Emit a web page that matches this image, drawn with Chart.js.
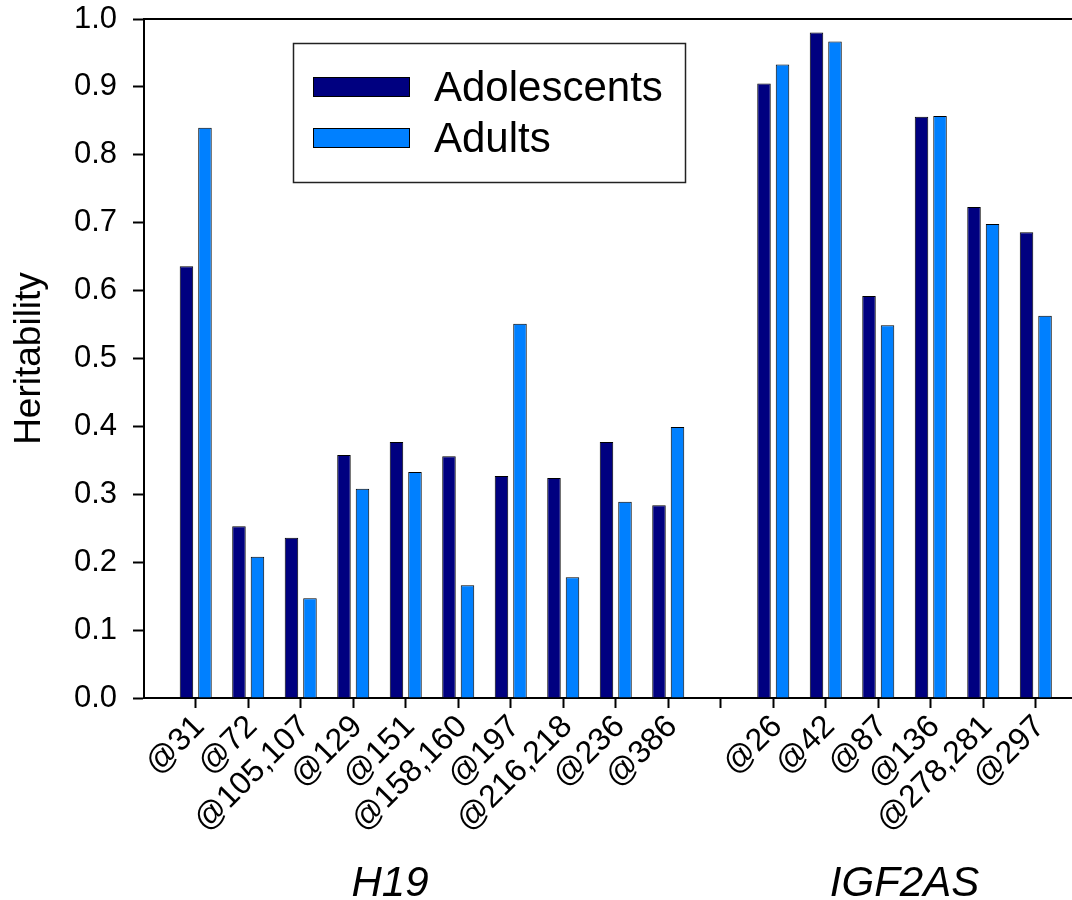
<!DOCTYPE html>
<html>
<head>
<meta charset="utf-8">
<script src="https://cdn.jsdelivr.net/npm/chart.js@4"></script>
<style>
  html, body { margin: 0; padding: 0; background: #fff; }
  #wrap { width: 1072px; height: 900px; }
</style>
</head>
<body>
<div id="wrap"><canvas id="heritChart" width="1072" height="900"></canvas></div>
<script>
// CpG sites; the empty entry is the gap between the two genes
const sites = ['@31', '@72', '@105,107', '@129', '@151', '@158,160', '@197', '@216,218', '@236', '@386',
               '',
               '@26', '@42', '@87', '@136', '@278,281', '@297'];
const adolescents = [0.636, 0.253, 0.236, 0.358, 0.377, 0.356, 0.327, 0.324, 0.377, 0.284,
                     null,
                     0.905, 0.980, 0.592, 0.856, 0.723, 0.686];
const adults = [0.840, 0.208, 0.147, 0.308, 0.333, 0.166, 0.551, 0.178, 0.289, 0.399,
                null,
                0.933, 0.967, 0.549, 0.857, 0.698, 0.563];
const genes = ['H19', 'IGF2AS'];
const yTicks = [0, 0.1, 0.2, 0.3, 0.4, 0.5, 0.6, 0.7, 0.8, 0.9, 1.0];

const FONT = "'Liberation Sans', Arial, sans-serif";

function toPoints(values) {
    const pts = [];
    values.forEach((v, i) => {
        if (v !== null) pts.push({ x: i + 1, y: v });
    });
    return pts;
}

function noEdgePadding(scale) {
    scale.paddingTop = 0;
    scale.paddingBottom = 0;
    scale.paddingLeft = 0;
    scale.paddingRight = 0;
}

// legend box drawn inside the plot, top left
const boxLegend = {
    id: 'boxLegend',
    afterDraw(chart) {
        const ctx = chart.ctx;
        ctx.save();
        ctx.lineWidth = 1.5;
        ctx.strokeStyle = '#222';
        ctx.strokeRect(293.5, 43.5, 392, 139);
        chart.data.datasets.forEach((ds, i) => {
            const y = 77 + i * 51;
            ctx.fillStyle = ds.backgroundColor;
            ctx.fillRect(313, y, 97, 20);
            ctx.lineWidth = 1;
            ctx.strokeStyle = '#000';
            ctx.strokeRect(313.5, y + 0.5, 96, 19);
            ctx.fillStyle = '#000';
            ctx.font = '42px ' + FONT;
            ctx.textBaseline = 'alphabetic';
            ctx.textAlign = 'left';
            ctx.fillText(ds.label, 434, y + 24);
        });
        ctx.restore();
    }
};

document.addEventListener('DOMContentLoaded', function() {
    const ctx = document.getElementById('heritChart').getContext('2d');
    const xMin = 0.015, xMax = 17.69;

    new Chart(ctx, {
        type: 'bar',
        data: {
            datasets: [
                {
                    label: 'Adolescents',
                    data: toPoints(adolescents),
                    backgroundColor: '#000080',
                    borderColor: '#000',
                    borderWidth: 1,
                    categoryPercentage: 0.705,
                    barPercentage: 0.73
                },
                {
                    label: 'Adults',
                    data: toPoints(adults),
                    backgroundColor: '#0080FF',
                    borderColor: '#000',
                    borderWidth: 1,
                    categoryPercentage: 0.705,
                    barPercentage: 0.73
                }
            ]
        },
        options: {
            responsive: false,
            animation: false,
            layout: { padding: { top: 19, right: 0, left: 0, bottom: 0 } },
            plugins: {
                legend: { display: false },
                tooltip: { enabled: false }
            },
            scales: {
                x: {
                    type: 'linear',
                    position: 'bottom',
                    offset: false,
                    min: xMin,
                    max: xMax,
                    afterBuildTicks: scale => {
                        scale.ticks = sites.map((s, i) => ({ value: i + 1 }));
                    },
                    afterFit: scale => { scale.height = 150; noEdgePadding(scale); },
                    ticks: {
                        autoSkip: false,
                        minRotation: 45,
                        maxRotation: 45,
                        padding: 0,
                        labelOffset: 4,
                        color: '#000',
                        font: { family: FONT, size: 32 },
                        callback: v => sites[v - 1] || ''
                    },
                    grid: {
                        display: true,
                        offset: false,
                        drawOnChartArea: false,
                        drawTicks: true,
                        tickLength: 10,
                        tickWidth: 2,
                        tickColor: '#000'
                    },
                    border: { display: true, color: '#000', width: 2 }
                },
                genes: {
                    type: 'linear',
                    position: 'bottom',
                    offset: false,
                    min: xMin,
                    max: xMax,
                    afterBuildTicks: scale => {
                        scale.ticks = [{ value: 4.7 }, { value: 14.5 }];
                    },
                    afterFit: scale => { scale.height = 52; noEdgePadding(scale); },
                    ticks: {
                        autoSkip: false,
                        maxRotation: 0,
                        padding: 11,
                        color: '#000',
                        font: { family: FONT, size: 42, style: 'italic' },
                        callback: (v, i) => genes[i]
                    },
                    grid: { display: false, offset: false, drawTicks: false },
                    border: { display: false }
                },
                frameTop: {
                    type: 'linear',
                    position: 'top',
                    min: 0,
                    max: 1,
                    afterFit: scale => { scale.height = 0; noEdgePadding(scale); },
                    ticks: { display: false },
                    grid: { display: false, drawTicks: false },
                    border: { display: true, color: '#000', width: 2 }
                },
                y: {
                    min: 0,
                    max: 1,
                    afterBuildTicks: scale => {
                        scale.ticks = yTicks.map(v => ({ value: v }));
                    },
                    afterFit: scale => { scale.width = 144; noEdgePadding(scale); },
                    ticks: {
                        padding: 16,
                        color: '#000',
                        font: { family: FONT, size: 31 },
                        callback: v => v.toFixed(1)
                    },
                    grid: {
                        display: true,
                        drawOnChartArea: false,
                        drawTicks: true,
                        tickLength: 11,
                        tickWidth: 2,
                        tickColor: '#000'
                    },
                    border: { display: true, color: '#000', width: 2 },
                    title: {
                        display: true,
                        text: 'Heritability',
                        color: '#000',
                        font: { family: FONT, size: 37 },
                        padding: { top: 8, bottom: 0 }
                    }
                }
            }
        },
        plugins: [boxLegend]
    });
});
</script>
</body>
</html>
